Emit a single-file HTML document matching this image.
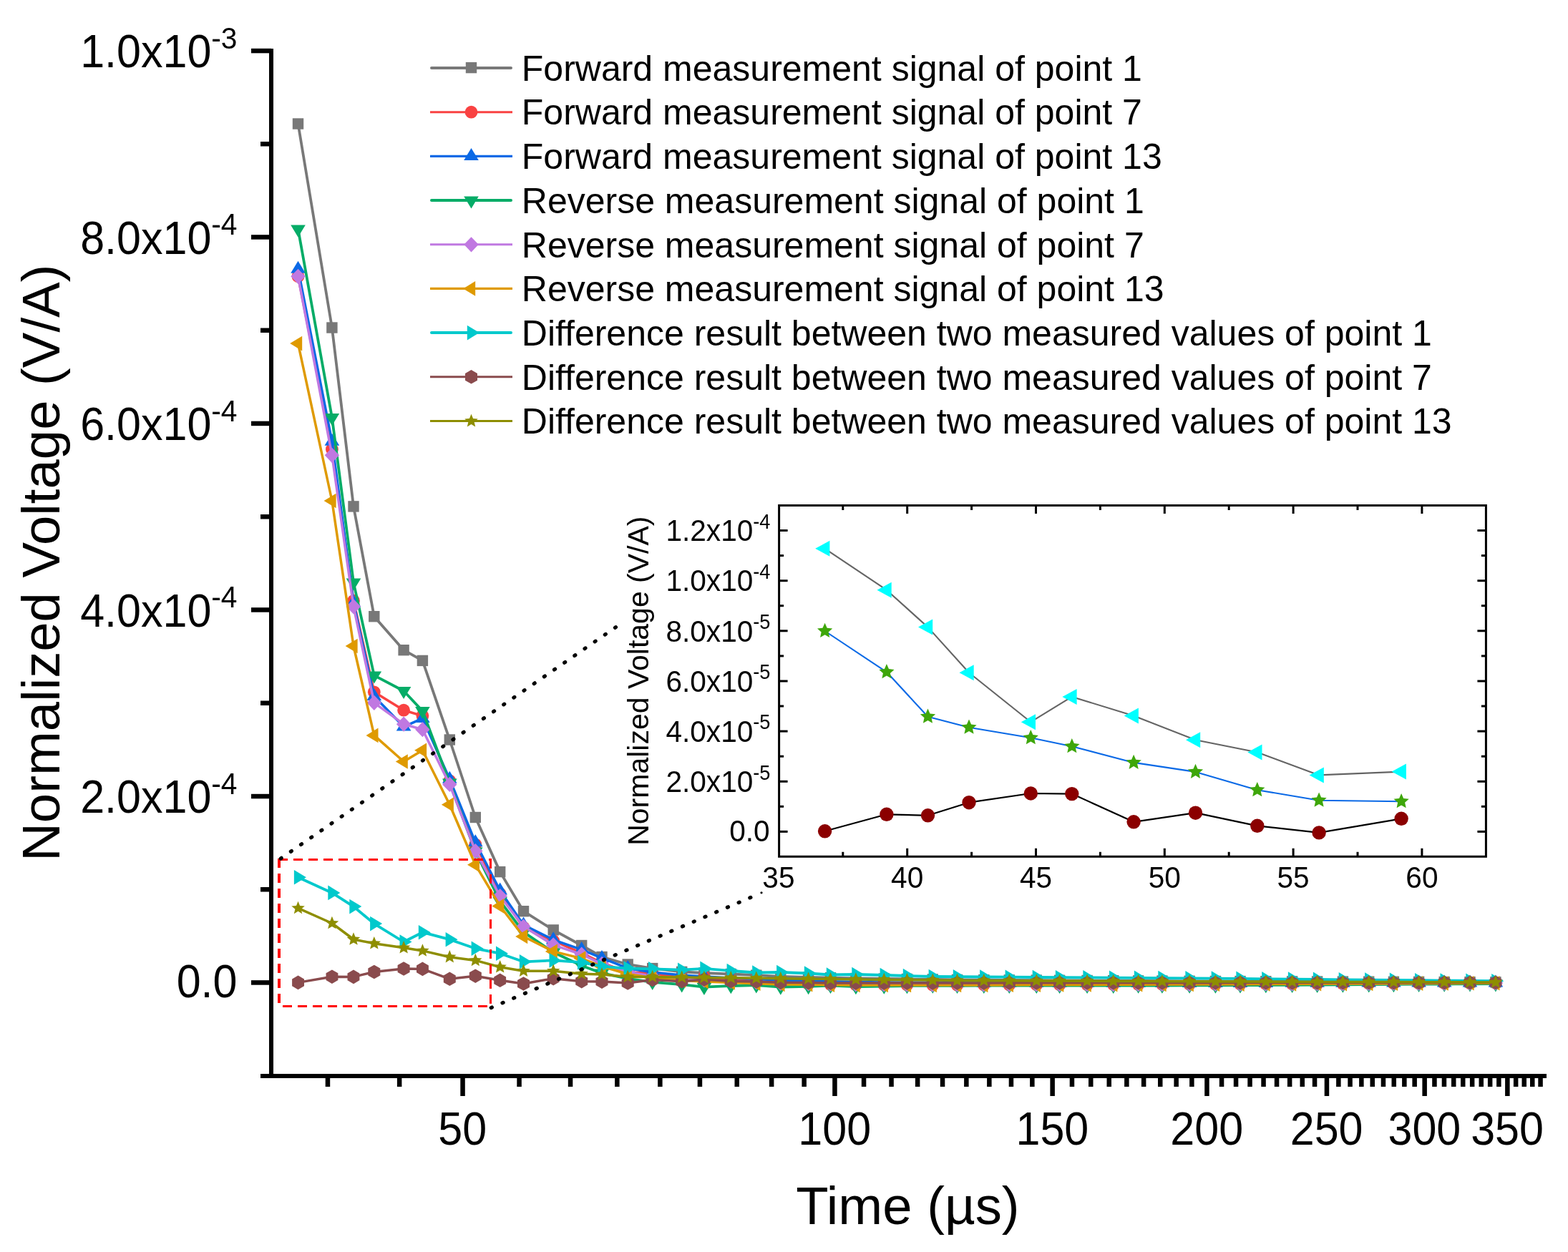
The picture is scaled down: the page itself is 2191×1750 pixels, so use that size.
<!DOCTYPE html>
<html lang="en"><head><meta charset="utf-8"><title>Normalized Voltage vs Time</title>
<style>html,body{margin:0;padding:0;background:#fff}body{width:2191px;height:1750px;overflow:hidden}svg{display:block}</style></head>
<body>
<svg width="2191" height="1750" viewBox="0 0 2191 1750" font-family='"Liberation Sans", Arial, Helvetica, sans-serif' fill="#000">
<rect width="2191" height="1750" fill="#fff"/>
<g id="main-data">
<polyline points="416.5,173 463.9,458 494,707.9 522.8,861.7 564.1,908.7 590.4,923.4 628.3,1034 664.3,1142.5 698.7,1218.6 731.5,1273.7 773.2,1299.9 812.7,1321.5 841,1337.5 877.2,1348 911.7,1353.6 952.7,1358.4 983.9,1360 1021.3,1361.5 1056.8,1363.2 1090.8,1365 1129.6,1365.8 1160.5,1366.7 1195.9,1367.5 1235.3,1368 1267.4,1368.5 1303.3,1369 1337.5,1369.5 1374.8,1369.7 1410.3,1369.9 1448.3,1370.1 1480.6,1370.3 1519.1,1370.5 1555.7,1370.7 1590.6,1370.9 1623.9,1371.1 1662.1,1371.3 1698.4,1371.5 1733,1371.6 1768.8,1371.7 1805.6,1371.9 1840.6,1372 1876.4,1372.1 1912.7,1372.2 1947.4,1372.3 1982.6,1372.4 2018.2,1372.6 2054,1372.7 2089.9,1372.8" fill="none" stroke="#787878" stroke-width="3.8" stroke-linejoin="round"/><rect x="408.8" y="165.3" width="15.4" height="15.4" fill="#787878"/><rect x="456.2" y="450.3" width="15.4" height="15.4" fill="#787878"/><rect x="486.3" y="700.2" width="15.4" height="15.4" fill="#787878"/><rect x="515.1" y="854" width="15.4" height="15.4" fill="#787878"/><rect x="556.4" y="901" width="15.4" height="15.4" fill="#787878"/><rect x="582.7" y="915.7" width="15.4" height="15.4" fill="#787878"/><rect x="620.6" y="1026.3" width="15.4" height="15.4" fill="#787878"/><rect x="656.6" y="1134.8" width="15.4" height="15.4" fill="#787878"/><rect x="691" y="1210.9" width="15.4" height="15.4" fill="#787878"/><rect x="723.8" y="1266" width="15.4" height="15.4" fill="#787878"/><rect x="765.5" y="1292.2" width="15.4" height="15.4" fill="#787878"/><rect x="805" y="1313.8" width="15.4" height="15.4" fill="#787878"/><rect x="833.3" y="1329.8" width="15.4" height="15.4" fill="#787878"/><rect x="869.5" y="1340.3" width="15.4" height="15.4" fill="#787878"/><rect x="904" y="1345.9" width="15.4" height="15.4" fill="#787878"/><rect x="945" y="1350.7" width="15.4" height="15.4" fill="#787878"/><rect x="976.2" y="1352.2" width="15.4" height="15.4" fill="#787878"/><rect x="1013.6" y="1353.8" width="15.4" height="15.4" fill="#787878"/><rect x="1049.1" y="1355.5" width="15.4" height="15.4" fill="#787878"/><rect x="1083.1" y="1357.3" width="15.4" height="15.4" fill="#787878"/><rect x="1121.9" y="1358.1" width="15.4" height="15.4" fill="#787878"/><rect x="1152.8" y="1359" width="15.4" height="15.4" fill="#787878"/><rect x="1188.2" y="1359.8" width="15.4" height="15.4" fill="#787878"/><rect x="1227.6" y="1360.3" width="15.4" height="15.4" fill="#787878"/><rect x="1259.7" y="1360.8" width="15.4" height="15.4" fill="#787878"/><rect x="1295.6" y="1361.3" width="15.4" height="15.4" fill="#787878"/><rect x="1329.8" y="1361.8" width="15.4" height="15.4" fill="#787878"/><rect x="1367.1" y="1362" width="15.4" height="15.4" fill="#787878"/><rect x="1402.6" y="1362.2" width="15.4" height="15.4" fill="#787878"/><rect x="1440.6" y="1362.4" width="15.4" height="15.4" fill="#787878"/><rect x="1472.9" y="1362.6" width="15.4" height="15.4" fill="#787878"/><rect x="1511.4" y="1362.8" width="15.4" height="15.4" fill="#787878"/><rect x="1548" y="1363" width="15.4" height="15.4" fill="#787878"/><rect x="1582.9" y="1363.2" width="15.4" height="15.4" fill="#787878"/><rect x="1616.2" y="1363.4" width="15.4" height="15.4" fill="#787878"/><rect x="1654.4" y="1363.6" width="15.4" height="15.4" fill="#787878"/><rect x="1690.7" y="1363.8" width="15.4" height="15.4" fill="#787878"/><rect x="1725.3" y="1363.9" width="15.4" height="15.4" fill="#787878"/><rect x="1761.1" y="1364" width="15.4" height="15.4" fill="#787878"/><rect x="1797.9" y="1364.2" width="15.4" height="15.4" fill="#787878"/><rect x="1832.9" y="1364.3" width="15.4" height="15.4" fill="#787878"/><rect x="1868.7" y="1364.4" width="15.4" height="15.4" fill="#787878"/><rect x="1905" y="1364.5" width="15.4" height="15.4" fill="#787878"/><rect x="1939.7" y="1364.6" width="15.4" height="15.4" fill="#787878"/><rect x="1974.9" y="1364.7" width="15.4" height="15.4" fill="#787878"/><rect x="2010.5" y="1364.9" width="15.4" height="15.4" fill="#787878"/><rect x="2046.3" y="1365" width="15.4" height="15.4" fill="#787878"/><rect x="2082.2" y="1365.1" width="15.4" height="15.4" fill="#787878"/>
<polyline points="416.5,386.2 463.9,628 494,839.7 522.8,967.3 564.1,992.7 590.4,1000.6 628.3,1091.2 664.3,1180.3 698.7,1249.3 731.5,1296.5 773.2,1315 812.7,1332.2 841,1345.9 877.2,1359 911.7,1360.5 952.7,1366.8 983.9,1365.5 1021.3,1369.5 1056.8,1371.5 1090.8,1374.3 1129.6,1375.1 1160.5,1376 1195.9,1376.5 1235.3,1376.5 1267.4,1376.5 1303.3,1376.6 1337.5,1376.6 1374.8,1376.5 1410.3,1376.4 1448.3,1376.3 1480.6,1376.2 1519.1,1376.1 1555.7,1376 1590.6,1375.9 1623.9,1375.8 1662.1,1375.7 1698.4,1375.7 1733,1375.5 1768.8,1375.3 1805.6,1375.2 1840.6,1375 1876.4,1374.9 1912.7,1374.7 1947.4,1374.5 1982.6,1374.4 2018.2,1374.2 2054,1374.1 2089.9,1373.9" fill="none" stroke="#F94242" stroke-width="3.5" stroke-linejoin="round"/><circle cx="416.5" cy="386.2" r="8.9" fill="#F94242"/><circle cx="463.9" cy="628" r="8.9" fill="#F94242"/><circle cx="494" cy="839.7" r="8.9" fill="#F94242"/><circle cx="522.8" cy="967.3" r="8.9" fill="#F94242"/><circle cx="564.1" cy="992.7" r="8.9" fill="#F94242"/><circle cx="590.4" cy="1000.6" r="8.9" fill="#F94242"/><circle cx="628.3" cy="1091.2" r="8.9" fill="#F94242"/><circle cx="664.3" cy="1180.3" r="8.9" fill="#F94242"/><circle cx="698.7" cy="1249.3" r="8.9" fill="#F94242"/><circle cx="731.5" cy="1296.5" r="8.9" fill="#F94242"/><circle cx="773.2" cy="1315" r="8.9" fill="#F94242"/><circle cx="812.7" cy="1332.2" r="8.9" fill="#F94242"/><circle cx="841" cy="1345.9" r="8.9" fill="#F94242"/><circle cx="877.2" cy="1359" r="8.9" fill="#F94242"/><circle cx="911.7" cy="1360.5" r="8.9" fill="#F94242"/><circle cx="952.7" cy="1366.8" r="8.9" fill="#F94242"/><circle cx="983.9" cy="1365.5" r="8.9" fill="#F94242"/><circle cx="1021.3" cy="1369.5" r="8.9" fill="#F94242"/><circle cx="1056.8" cy="1371.5" r="8.9" fill="#F94242"/><circle cx="1090.8" cy="1374.3" r="8.9" fill="#F94242"/><circle cx="1129.6" cy="1375.1" r="8.9" fill="#F94242"/><circle cx="1160.5" cy="1376" r="8.9" fill="#F94242"/><circle cx="1195.9" cy="1376.5" r="8.9" fill="#F94242"/><circle cx="1235.3" cy="1376.5" r="8.9" fill="#F94242"/><circle cx="1267.4" cy="1376.5" r="8.9" fill="#F94242"/><circle cx="1303.3" cy="1376.6" r="8.9" fill="#F94242"/><circle cx="1337.5" cy="1376.6" r="8.9" fill="#F94242"/><circle cx="1374.8" cy="1376.5" r="8.9" fill="#F94242"/><circle cx="1410.3" cy="1376.4" r="8.9" fill="#F94242"/><circle cx="1448.3" cy="1376.3" r="8.9" fill="#F94242"/><circle cx="1480.6" cy="1376.2" r="8.9" fill="#F94242"/><circle cx="1519.1" cy="1376.1" r="8.9" fill="#F94242"/><circle cx="1555.7" cy="1376" r="8.9" fill="#F94242"/><circle cx="1590.6" cy="1375.9" r="8.9" fill="#F94242"/><circle cx="1623.9" cy="1375.8" r="8.9" fill="#F94242"/><circle cx="1662.1" cy="1375.7" r="8.9" fill="#F94242"/><circle cx="1698.4" cy="1375.7" r="8.9" fill="#F94242"/><circle cx="1733" cy="1375.5" r="8.9" fill="#F94242"/><circle cx="1768.8" cy="1375.3" r="8.9" fill="#F94242"/><circle cx="1805.6" cy="1375.2" r="8.9" fill="#F94242"/><circle cx="1840.6" cy="1375" r="8.9" fill="#F94242"/><circle cx="1876.4" cy="1374.9" r="8.9" fill="#F94242"/><circle cx="1912.7" cy="1374.7" r="8.9" fill="#F94242"/><circle cx="1947.4" cy="1374.5" r="8.9" fill="#F94242"/><circle cx="1982.6" cy="1374.4" r="8.9" fill="#F94242"/><circle cx="2018.2" cy="1374.2" r="8.9" fill="#F94242"/><circle cx="2054" cy="1374.1" r="8.9" fill="#F94242"/><circle cx="2089.9" cy="1373.9" r="8.9" fill="#F94242"/>
<polyline points="416.5,376 463.9,617 494,842.5 522.8,973.2 564.1,1015.8 590.4,1004.2 628.3,1089 664.3,1177.6 698.7,1244.7 731.5,1292.7 773.2,1313.6 812.7,1327.3 841,1339.2 877.2,1353.4 911.7,1358.9 952.7,1363.1 983.9,1364.9 1021.3,1366.8 1056.8,1368.5 1090.8,1370.3 1129.6,1371 1160.5,1371.8 1195.9,1372.5 1235.3,1372.9 1267.4,1373.2 1303.3,1373.6 1337.5,1374 1374.8,1374 1410.3,1374.1 1448.3,1374.1 1480.6,1374.1 1519.1,1374.2 1555.7,1374.2 1590.6,1374.2 1623.9,1374.2 1662.1,1374.3 1698.4,1374.3 1733,1374.2 1768.8,1374.2 1805.6,1374.1 1840.6,1374.1 1876.4,1374 1912.7,1374 1947.4,1373.9 1982.6,1373.9 2018.2,1373.8 2054,1373.8 2089.9,1373.7" fill="none" stroke="#0A69E6" stroke-width="3.5" stroke-linejoin="round"/><polygon points="416.5,364.7 406.2,381.7 426.8,381.7" fill="#0A69E6"/><polygon points="463.9,605.7 453.6,622.7 474.2,622.7" fill="#0A69E6"/><polygon points="494,831.2 483.7,848.2 504.3,848.2" fill="#0A69E6"/><polygon points="522.8,961.9 512.5,978.9 533.1,978.9" fill="#0A69E6"/><polygon points="564.1,1004.5 553.8,1021.5 574.4,1021.5" fill="#0A69E6"/><polygon points="590.4,992.9 580.1,1009.9 600.7,1009.9" fill="#0A69E6"/><polygon points="628.3,1077.7 618,1094.7 638.6,1094.7" fill="#0A69E6"/><polygon points="664.3,1166.3 654,1183.3 674.6,1183.3" fill="#0A69E6"/><polygon points="698.7,1233.4 688.4,1250.4 709,1250.4" fill="#0A69E6"/><polygon points="731.5,1281.4 721.2,1298.4 741.8,1298.4" fill="#0A69E6"/><polygon points="773.2,1302.3 762.9,1319.3 783.5,1319.3" fill="#0A69E6"/><polygon points="812.7,1316 802.4,1333 823,1333" fill="#0A69E6"/><polygon points="841,1327.9 830.7,1344.9 851.3,1344.9" fill="#0A69E6"/><polygon points="877.2,1342.1 866.9,1359.1 887.5,1359.1" fill="#0A69E6"/><polygon points="911.7,1347.6 901.4,1364.6 922,1364.6" fill="#0A69E6"/><polygon points="952.7,1351.8 942.4,1368.8 963,1368.8" fill="#0A69E6"/><polygon points="983.9,1353.6 973.6,1370.6 994.2,1370.6" fill="#0A69E6"/><polygon points="1021.3,1355.5 1011,1372.5 1031.6,1372.5" fill="#0A69E6"/><polygon points="1056.8,1357.2 1046.5,1374.2 1067.1,1374.2" fill="#0A69E6"/><polygon points="1090.8,1359 1080.5,1376 1101.1,1376" fill="#0A69E6"/><polygon points="1129.6,1359.7 1119.3,1376.7 1139.9,1376.7" fill="#0A69E6"/><polygon points="1160.5,1360.4 1150.2,1377.4 1170.8,1377.4" fill="#0A69E6"/><polygon points="1195.9,1361.2 1185.6,1378.2 1206.2,1378.2" fill="#0A69E6"/><polygon points="1235.3,1361.5 1225,1378.5 1245.6,1378.5" fill="#0A69E6"/><polygon points="1267.4,1361.9 1257.1,1378.9 1277.7,1378.9" fill="#0A69E6"/><polygon points="1303.3,1362.3 1293,1379.3 1313.6,1379.3" fill="#0A69E6"/><polygon points="1337.5,1362.7 1327.2,1379.7 1347.8,1379.7" fill="#0A69E6"/><polygon points="1374.8,1362.7 1364.5,1379.7 1385.1,1379.7" fill="#0A69E6"/><polygon points="1410.3,1362.7 1400,1379.7 1420.6,1379.7" fill="#0A69E6"/><polygon points="1448.3,1362.8 1438,1379.8 1458.6,1379.8" fill="#0A69E6"/><polygon points="1480.6,1362.8 1470.3,1379.8 1490.9,1379.8" fill="#0A69E6"/><polygon points="1519.1,1362.8 1508.8,1379.8 1529.4,1379.8" fill="#0A69E6"/><polygon points="1555.7,1362.8 1545.4,1379.8 1566,1379.8" fill="#0A69E6"/><polygon points="1590.6,1362.9 1580.3,1379.9 1600.9,1379.9" fill="#0A69E6"/><polygon points="1623.9,1362.9 1613.6,1379.9 1634.2,1379.9" fill="#0A69E6"/><polygon points="1662.1,1362.9 1651.8,1379.9 1672.4,1379.9" fill="#0A69E6"/><polygon points="1698.4,1363 1688.1,1380 1708.7,1380" fill="#0A69E6"/><polygon points="1733,1362.9 1722.7,1379.9 1743.3,1379.9" fill="#0A69E6"/><polygon points="1768.8,1362.9 1758.5,1379.9 1779.1,1379.9" fill="#0A69E6"/><polygon points="1805.6,1362.8 1795.3,1379.8 1815.9,1379.8" fill="#0A69E6"/><polygon points="1840.6,1362.7 1830.3,1379.7 1850.9,1379.7" fill="#0A69E6"/><polygon points="1876.4,1362.7 1866.1,1379.7 1886.7,1379.7" fill="#0A69E6"/><polygon points="1912.7,1362.6 1902.4,1379.6 1923,1379.6" fill="#0A69E6"/><polygon points="1947.4,1362.6 1937.1,1379.6 1957.7,1379.6" fill="#0A69E6"/><polygon points="1982.6,1362.5 1972.3,1379.5 1992.9,1379.5" fill="#0A69E6"/><polygon points="2018.2,1362.5 2007.9,1379.5 2028.5,1379.5" fill="#0A69E6"/><polygon points="2054,1362.4 2043.7,1379.4 2064.3,1379.4" fill="#0A69E6"/><polygon points="2089.9,1362.4 2079.6,1379.4 2100.2,1379.4" fill="#0A69E6"/>
<polyline points="416.5,320.2 463.9,583.6 494,814.3 522.8,944.1 564.1,965.7 590.4,993.7 628.3,1094.3 664.3,1190.2 698.7,1259.4 731.5,1302.9 773.2,1331 812.7,1349.8 841,1360.2 877.2,1367.9 911.7,1372.8 952.7,1376.2 983.9,1379.7 1021.3,1378 1056.8,1377.2 1090.8,1379.5 1129.6,1378.8 1160.5,1377.7 1195.9,1379 1235.3,1378.5 1267.4,1378 1303.3,1377.5 1337.5,1377.8 1374.8,1377.7 1410.3,1377.7 1448.3,1377.6 1480.6,1377.6 1519.1,1377.6 1555.7,1377.5 1590.6,1377.5 1623.9,1377.5 1662.1,1377.4 1698.4,1377.4 1733,1377.2 1768.8,1377 1805.6,1376.8 1840.6,1376.5 1876.4,1376.3 1912.7,1376.1 1947.4,1375.9 1982.6,1375.7 2018.2,1375.5 2054,1375.3 2089.9,1375.1" fill="none" stroke="#05AC67" stroke-width="3.8" stroke-linejoin="round"/><polygon points="416.5,331.5 406.2,314.5 426.8,314.5" fill="#05AC67"/><polygon points="463.9,594.9 453.6,577.9 474.2,577.9" fill="#05AC67"/><polygon points="494,825.6 483.7,808.6 504.3,808.6" fill="#05AC67"/><polygon points="522.8,955.4 512.5,938.4 533.1,938.4" fill="#05AC67"/><polygon points="564.1,977 553.8,960 574.4,960" fill="#05AC67"/><polygon points="590.4,1005 580.1,988 600.7,988" fill="#05AC67"/><polygon points="628.3,1105.6 618,1088.6 638.6,1088.6" fill="#05AC67"/><polygon points="664.3,1201.5 654,1184.5 674.6,1184.5" fill="#05AC67"/><polygon points="698.7,1270.7 688.4,1253.7 709,1253.7" fill="#05AC67"/><polygon points="731.5,1314.2 721.2,1297.2 741.8,1297.2" fill="#05AC67"/><polygon points="773.2,1342.3 762.9,1325.3 783.5,1325.3" fill="#05AC67"/><polygon points="812.7,1361.1 802.4,1344.1 823,1344.1" fill="#05AC67"/><polygon points="841,1371.5 830.7,1354.5 851.3,1354.5" fill="#05AC67"/><polygon points="877.2,1379.2 866.9,1362.2 887.5,1362.2" fill="#05AC67"/><polygon points="911.7,1384.1 901.4,1367.1 922,1367.1" fill="#05AC67"/><polygon points="952.7,1387.5 942.4,1370.5 963,1370.5" fill="#05AC67"/><polygon points="983.9,1391 973.6,1374 994.2,1374" fill="#05AC67"/><polygon points="1021.3,1389.3 1011,1372.3 1031.6,1372.3" fill="#05AC67"/><polygon points="1056.8,1388.6 1046.5,1371.6 1067.1,1371.6" fill="#05AC67"/><polygon points="1090.8,1390.8 1080.5,1373.8 1101.1,1373.8" fill="#05AC67"/><polygon points="1129.6,1390.2 1119.3,1373.2 1139.9,1373.2" fill="#05AC67"/><polygon points="1160.5,1389 1150.2,1372 1170.8,1372" fill="#05AC67"/><polygon points="1195.9,1390.3 1185.6,1373.3 1206.2,1373.3" fill="#05AC67"/><polygon points="1235.3,1389.8 1225,1372.8 1245.6,1372.8" fill="#05AC67"/><polygon points="1267.4,1389.3 1257.1,1372.3 1277.7,1372.3" fill="#05AC67"/><polygon points="1303.3,1388.8 1293,1371.8 1313.6,1371.8" fill="#05AC67"/><polygon points="1337.5,1389.1 1327.2,1372.1 1347.8,1372.1" fill="#05AC67"/><polygon points="1374.8,1389.1 1364.5,1372.1 1385.1,1372.1" fill="#05AC67"/><polygon points="1410.3,1389 1400,1372 1420.6,1372" fill="#05AC67"/><polygon points="1448.3,1389 1438,1372 1458.6,1372" fill="#05AC67"/><polygon points="1480.6,1388.9 1470.3,1371.9 1490.9,1371.9" fill="#05AC67"/><polygon points="1519.1,1388.9 1508.8,1371.9 1529.4,1371.9" fill="#05AC67"/><polygon points="1555.7,1388.9 1545.4,1371.9 1566,1371.9" fill="#05AC67"/><polygon points="1590.6,1388.8 1580.3,1371.8 1600.9,1371.8" fill="#05AC67"/><polygon points="1623.9,1388.8 1613.6,1371.8 1634.2,1371.8" fill="#05AC67"/><polygon points="1662.1,1388.8 1651.8,1371.8 1672.4,1371.8" fill="#05AC67"/><polygon points="1698.4,1388.7 1688.1,1371.7 1708.7,1371.7" fill="#05AC67"/><polygon points="1733,1388.5 1722.7,1371.5 1743.3,1371.5" fill="#05AC67"/><polygon points="1768.8,1388.3 1758.5,1371.3 1779.1,1371.3" fill="#05AC67"/><polygon points="1805.6,1388.1 1795.3,1371.1 1815.9,1371.1" fill="#05AC67"/><polygon points="1840.6,1387.9 1830.3,1370.9 1850.9,1370.9" fill="#05AC67"/><polygon points="1876.4,1387.7 1866.1,1370.7 1886.7,1370.7" fill="#05AC67"/><polygon points="1912.7,1387.4 1902.4,1370.4 1923,1370.4" fill="#05AC67"/><polygon points="1947.4,1387.2 1937.1,1370.2 1957.7,1370.2" fill="#05AC67"/><polygon points="1982.6,1387 1972.3,1370 1992.9,1370" fill="#05AC67"/><polygon points="2018.2,1386.8 2007.9,1369.8 2028.5,1369.8" fill="#05AC67"/><polygon points="2054,1386.6 2043.7,1369.6 2064.3,1369.6" fill="#05AC67"/><polygon points="2089.9,1386.4 2079.6,1369.4 2100.2,1369.4" fill="#05AC67"/>
<polyline points="416.5,386.3 463.9,636.3 494,847.8 522.8,982.3 564.1,1012.2 590.4,1019.7 628.3,1096.4 664.3,1189.6 698.7,1252.5 731.5,1295 773.2,1320.8 812.7,1334 841,1347.3 877.2,1358.5 911.7,1364.5 952.7,1368.5 983.9,1370 1021.3,1371.5 1056.8,1373 1090.8,1374.5 1129.6,1375 1160.5,1375.5 1195.9,1376 1235.3,1376 1267.4,1376.1 1303.3,1376.2 1337.5,1376.2 1374.8,1376.1 1410.3,1376.1 1448.3,1376 1480.6,1375.9 1519.1,1375.8 1555.7,1375.8 1590.6,1375.7 1623.9,1375.6 1662.1,1375.6 1698.4,1375.5 1733,1375.4 1768.8,1375.2 1805.6,1375.1 1840.6,1375 1876.4,1374.8 1912.7,1374.7 1947.4,1374.5 1982.6,1374.4 2018.2,1374.3 2054,1374.1 2089.9,1374" fill="none" stroke="#C078E1" stroke-width="3.5" stroke-linejoin="round"/><polygon points="416.5,375.7 426.7,386.3 416.5,396.9 406.3,386.3" fill="#C078E1"/><polygon points="463.9,625.7 474.1,636.3 463.9,646.9 453.7,636.3" fill="#C078E1"/><polygon points="494,837.2 504.2,847.8 494,858.4 483.8,847.8" fill="#C078E1"/><polygon points="522.8,971.7 533,982.3 522.8,992.9 512.6,982.3" fill="#C078E1"/><polygon points="564.1,1001.6 574.3,1012.2 564.1,1022.8 553.9,1012.2" fill="#C078E1"/><polygon points="590.4,1009.1 600.6,1019.7 590.4,1030.3 580.2,1019.7" fill="#C078E1"/><polygon points="628.3,1085.8 638.5,1096.4 628.3,1107 618.1,1096.4" fill="#C078E1"/><polygon points="664.3,1179 674.5,1189.6 664.3,1200.2 654.1,1189.6" fill="#C078E1"/><polygon points="698.7,1241.9 708.9,1252.5 698.7,1263.1 688.5,1252.5" fill="#C078E1"/><polygon points="731.5,1284.4 741.7,1295 731.5,1305.6 721.3,1295" fill="#C078E1"/><polygon points="773.2,1310.2 783.4,1320.8 773.2,1331.4 763,1320.8" fill="#C078E1"/><polygon points="812.7,1323.4 822.9,1334 812.7,1344.6 802.5,1334" fill="#C078E1"/><polygon points="841,1336.7 851.2,1347.3 841,1357.9 830.8,1347.3" fill="#C078E1"/><polygon points="877.2,1347.9 887.4,1358.5 877.2,1369.1 867,1358.5" fill="#C078E1"/><polygon points="911.7,1353.9 921.9,1364.5 911.7,1375.1 901.5,1364.5" fill="#C078E1"/><polygon points="952.7,1357.9 962.9,1368.5 952.7,1379.1 942.5,1368.5" fill="#C078E1"/><polygon points="983.9,1359.4 994.1,1370 983.9,1380.6 973.7,1370" fill="#C078E1"/><polygon points="1021.3,1360.9 1031.5,1371.5 1021.3,1382.1 1011.1,1371.5" fill="#C078E1"/><polygon points="1056.8,1362.4 1067,1373 1056.8,1383.6 1046.6,1373" fill="#C078E1"/><polygon points="1090.8,1363.9 1101,1374.5 1090.8,1385.1 1080.6,1374.5" fill="#C078E1"/><polygon points="1129.6,1364.4 1139.8,1375 1129.6,1385.6 1119.4,1375" fill="#C078E1"/><polygon points="1160.5,1364.9 1170.7,1375.5 1160.5,1386.1 1150.3,1375.5" fill="#C078E1"/><polygon points="1195.9,1365.4 1206.1,1376 1195.9,1386.6 1185.7,1376" fill="#C078E1"/><polygon points="1235.3,1365.5 1245.5,1376 1235.3,1386.6 1225.1,1376" fill="#C078E1"/><polygon points="1267.4,1365.5 1277.6,1376.1 1267.4,1386.7 1257.2,1376.1" fill="#C078E1"/><polygon points="1303.3,1365.6 1313.5,1376.2 1303.3,1386.8 1293.1,1376.2" fill="#C078E1"/><polygon points="1337.5,1365.6 1347.7,1376.2 1337.5,1386.8 1327.3,1376.2" fill="#C078E1"/><polygon points="1374.8,1365.5 1385,1376.1 1374.8,1386.7 1364.6,1376.1" fill="#C078E1"/><polygon points="1410.3,1365.5 1420.5,1376.1 1410.3,1386.7 1400.1,1376.1" fill="#C078E1"/><polygon points="1448.3,1365.4 1458.5,1376 1448.3,1386.6 1438.1,1376" fill="#C078E1"/><polygon points="1480.6,1365.3 1490.8,1375.9 1480.6,1386.5 1470.4,1375.9" fill="#C078E1"/><polygon points="1519.1,1365.2 1529.3,1375.8 1519.1,1386.4 1508.9,1375.8" fill="#C078E1"/><polygon points="1555.7,1365.2 1565.9,1375.8 1555.7,1386.4 1545.5,1375.8" fill="#C078E1"/><polygon points="1590.6,1365.1 1600.8,1375.7 1590.6,1386.3 1580.4,1375.7" fill="#C078E1"/><polygon points="1623.9,1365 1634.1,1375.6 1623.9,1386.2 1613.7,1375.6" fill="#C078E1"/><polygon points="1662.1,1365 1672.3,1375.6 1662.1,1386.2 1651.9,1375.6" fill="#C078E1"/><polygon points="1698.4,1364.9 1708.6,1375.5 1698.4,1386.1 1688.2,1375.5" fill="#C078E1"/><polygon points="1733,1364.8 1743.2,1375.4 1733,1386 1722.8,1375.4" fill="#C078E1"/><polygon points="1768.8,1364.6 1779,1375.2 1768.8,1385.8 1758.6,1375.2" fill="#C078E1"/><polygon points="1805.6,1364.5 1815.8,1375.1 1805.6,1385.7 1795.4,1375.1" fill="#C078E1"/><polygon points="1840.6,1364.4 1850.8,1375 1840.6,1385.6 1830.4,1375" fill="#C078E1"/><polygon points="1876.4,1364.2 1886.6,1374.8 1876.4,1385.4 1866.2,1374.8" fill="#C078E1"/><polygon points="1912.7,1364.1 1922.9,1374.7 1912.7,1385.3 1902.5,1374.7" fill="#C078E1"/><polygon points="1947.4,1363.9 1957.6,1374.5 1947.4,1385.1 1937.2,1374.5" fill="#C078E1"/><polygon points="1982.6,1363.8 1992.8,1374.4 1982.6,1385 1972.4,1374.4" fill="#C078E1"/><polygon points="2018.2,1363.7 2028.4,1374.3 2018.2,1384.9 2008,1374.3" fill="#C078E1"/><polygon points="2054,1363.5 2064.2,1374.1 2054,1384.7 2043.8,1374.1" fill="#C078E1"/><polygon points="2089.9,1363.4 2100.1,1374 2089.9,1384.6 2079.7,1374" fill="#C078E1"/>
<polyline points="416.5,480.1 463.9,700 494,903 522.8,1027.9 564.1,1064.5 590.4,1048.8 628.3,1124.8 664.3,1208.7 698.7,1266.4 731.5,1309 773.2,1329.9 812.7,1339.6 841,1350.8 877.2,1361.5 911.7,1367 952.7,1370.5 983.9,1372 1021.3,1373.5 1056.8,1374.8 1090.8,1376 1129.6,1376.3 1160.5,1376.7 1195.9,1377 1235.3,1377 1267.4,1377 1303.3,1377 1337.5,1377 1374.8,1376.9 1410.3,1376.8 1448.3,1376.6 1480.6,1376.5 1519.1,1376.4 1555.7,1376.3 1590.6,1376.2 1623.9,1376 1662.1,1375.9 1698.4,1375.8 1733,1375.7 1768.8,1375.5 1805.6,1375.4 1840.6,1375.2 1876.4,1375.1 1912.7,1374.9 1947.4,1374.8 1982.6,1374.6 2018.2,1374.5 2054,1374.3 2089.9,1374.2" fill="none" stroke="#DF9A00" stroke-width="3.5" stroke-linejoin="round"/><polygon points="405.2,480.1 422.2,469.8 422.2,490.4" fill="#DF9A00"/><polygon points="452.6,700 469.6,689.7 469.6,710.3" fill="#DF9A00"/><polygon points="482.6,903 499.6,892.7 499.6,913.3" fill="#DF9A00"/><polygon points="511.5,1027.9 528.5,1017.6 528.5,1038.2" fill="#DF9A00"/><polygon points="552.8,1064.5 569.8,1054.2 569.8,1074.8" fill="#DF9A00"/><polygon points="579.1,1048.8 596.1,1038.5 596.1,1059.1" fill="#DF9A00"/><polygon points="616.9,1124.8 633.9,1114.5 633.9,1135.1" fill="#DF9A00"/><polygon points="653,1208.7 670,1198.4 670,1219" fill="#DF9A00"/><polygon points="687.3,1266.4 704.3,1256.1 704.3,1276.7" fill="#DF9A00"/><polygon points="720.2,1309 737.2,1298.7 737.2,1319.3" fill="#DF9A00"/><polygon points="761.9,1329.9 778.9,1319.6 778.9,1340.2" fill="#DF9A00"/><polygon points="801.4,1339.6 818.4,1329.3 818.4,1349.9" fill="#DF9A00"/><polygon points="829.7,1350.8 846.7,1340.5 846.7,1361.1" fill="#DF9A00"/><polygon points="865.8,1361.5 882.8,1351.2 882.8,1371.8" fill="#DF9A00"/><polygon points="900.3,1367 917.3,1356.7 917.3,1377.3" fill="#DF9A00"/><polygon points="941.3,1370.5 958.3,1360.2 958.3,1380.8" fill="#DF9A00"/><polygon points="972.6,1372 989.6,1361.7 989.6,1382.3" fill="#DF9A00"/><polygon points="1009.9,1373.5 1026.9,1363.2 1026.9,1383.8" fill="#DF9A00"/><polygon points="1045.5,1374.8 1062.5,1364.5 1062.5,1385" fill="#DF9A00"/><polygon points="1079.5,1376 1096.5,1365.7 1096.5,1386.3" fill="#DF9A00"/><polygon points="1118.3,1376.3 1135.3,1366 1135.3,1386.6" fill="#DF9A00"/><polygon points="1149.1,1376.7 1166.1,1366.4 1166.1,1387" fill="#DF9A00"/><polygon points="1184.6,1377 1201.6,1366.7 1201.6,1387.3" fill="#DF9A00"/><polygon points="1223.9,1377 1240.9,1366.7 1240.9,1387.3" fill="#DF9A00"/><polygon points="1256.1,1377 1273.1,1366.7 1273.1,1387.3" fill="#DF9A00"/><polygon points="1291.9,1377 1308.9,1366.7 1308.9,1387.3" fill="#DF9A00"/><polygon points="1326.2,1377 1343.2,1366.7 1343.2,1387.3" fill="#DF9A00"/><polygon points="1363.4,1376.9 1380.4,1366.6 1380.4,1387.2" fill="#DF9A00"/><polygon points="1399,1376.8 1416,1366.5 1416,1387.1" fill="#DF9A00"/><polygon points="1437,1376.6 1454,1366.3 1454,1386.9" fill="#DF9A00"/><polygon points="1469.3,1376.5 1486.3,1366.2 1486.3,1386.8" fill="#DF9A00"/><polygon points="1507.8,1376.4 1524.8,1366.1 1524.8,1386.7" fill="#DF9A00"/><polygon points="1544.4,1376.3 1561.4,1366 1561.4,1386.6" fill="#DF9A00"/><polygon points="1579.3,1376.2 1596.3,1365.9 1596.3,1386.5" fill="#DF9A00"/><polygon points="1612.6,1376 1629.6,1365.7 1629.6,1386.3" fill="#DF9A00"/><polygon points="1650.8,1375.9 1667.8,1365.6 1667.8,1386.2" fill="#DF9A00"/><polygon points="1687.1,1375.8 1704.1,1365.5 1704.1,1386.1" fill="#DF9A00"/><polygon points="1721.7,1375.7 1738.7,1365.4 1738.7,1386" fill="#DF9A00"/><polygon points="1757.5,1375.5 1774.5,1365.2 1774.5,1385.8" fill="#DF9A00"/><polygon points="1794.2,1375.4 1811.2,1365.1 1811.2,1385.7" fill="#DF9A00"/><polygon points="1829.2,1375.2 1846.2,1364.9 1846.2,1385.5" fill="#DF9A00"/><polygon points="1865,1375.1 1882,1364.8 1882,1385.4" fill="#DF9A00"/><polygon points="1901.4,1374.9 1918.4,1364.6 1918.4,1385.2" fill="#DF9A00"/><polygon points="1936.1,1374.8 1953.1,1364.5 1953.1,1385.1" fill="#DF9A00"/><polygon points="1971.3,1374.6 1988.3,1364.3 1988.3,1384.9" fill="#DF9A00"/><polygon points="2006.8,1374.5 2023.8,1364.2 2023.8,1384.8" fill="#DF9A00"/><polygon points="2042.6,1374.3 2059.6,1364 2059.6,1384.6" fill="#DF9A00"/><polygon points="2078.5,1374.2 2095.5,1363.9 2095.5,1384.5" fill="#DF9A00"/>
<polyline points="416.5,1226.3 463.9,1247.9 494,1267.1 522.8,1291.1 564.1,1316.5 590.4,1303.2 628.3,1313.2 664.3,1325.8 698.7,1332.7 731.5,1344.3 773.2,1342.4 812.7,1345.2 841,1350.8 877.2,1353.6 911.7,1354.3 952.7,1355.7 983.9,1353.8 1021.3,1357 1056.8,1359.5 1090.8,1359 1129.6,1360.5 1160.5,1362.5 1195.9,1362 1235.3,1363 1267.4,1364 1303.3,1365 1337.5,1365.2 1374.8,1365.5 1410.3,1365.7 1448.3,1366 1480.6,1366.2 1519.1,1366.4 1555.7,1366.7 1590.6,1366.9 1623.9,1367.1 1662.1,1367.4 1698.4,1367.6 1733,1367.9 1768.8,1368.3 1805.6,1368.6 1840.6,1368.9 1876.4,1369.3 1912.7,1369.6 1947.4,1369.9 1982.6,1370.2 2018.2,1370.6 2054,1370.9 2089.9,1371.2" fill="none" stroke="#00C9CC" stroke-width="3.8" stroke-linejoin="round"/><polygon points="427.9,1226.3 410.9,1216 410.9,1236.6" fill="#00C9CC"/><polygon points="475.3,1247.9 458.3,1237.6 458.3,1258.2" fill="#00C9CC"/><polygon points="505.3,1267.1 488.3,1256.8 488.3,1277.4" fill="#00C9CC"/><polygon points="534.1,1291.1 517.1,1280.8 517.1,1301.4" fill="#00C9CC"/><polygon points="575.5,1316.5 558.5,1306.2 558.5,1326.8" fill="#00C9CC"/><polygon points="601.8,1303.2 584.8,1292.9 584.8,1313.5" fill="#00C9CC"/><polygon points="639.6,1313.2 622.6,1302.9 622.6,1323.5" fill="#00C9CC"/><polygon points="675.6,1325.8 658.6,1315.5 658.6,1336.1" fill="#00C9CC"/><polygon points="710,1332.7 693,1322.4 693,1343" fill="#00C9CC"/><polygon points="742.9,1344.3 725.9,1334 725.9,1354.6" fill="#00C9CC"/><polygon points="784.5,1342.4 767.5,1332.1 767.5,1352.7" fill="#00C9CC"/><polygon points="824,1345.2 807,1334.9 807,1355.5" fill="#00C9CC"/><polygon points="852.3,1350.8 835.3,1340.5 835.3,1361.1" fill="#00C9CC"/><polygon points="888.5,1353.6 871.5,1343.3 871.5,1363.9" fill="#00C9CC"/><polygon points="923,1354.3 906,1344 906,1364.6" fill="#00C9CC"/><polygon points="964,1355.7 947,1345.4 947,1366" fill="#00C9CC"/><polygon points="995.3,1353.8 978.3,1343.5 978.3,1364.1" fill="#00C9CC"/><polygon points="1032.6,1357 1015.6,1346.7 1015.6,1367.3" fill="#00C9CC"/><polygon points="1068.2,1359.5 1051.2,1349.2 1051.2,1369.8" fill="#00C9CC"/><polygon points="1102.1,1359 1085.1,1348.7 1085.1,1369.3" fill="#00C9CC"/><polygon points="1140.9,1360.5 1123.9,1350.2 1123.9,1370.8" fill="#00C9CC"/><polygon points="1171.8,1362.5 1154.8,1352.2 1154.8,1372.8" fill="#00C9CC"/><polygon points="1207.3,1362 1190.3,1351.7 1190.3,1372.3" fill="#00C9CC"/><polygon points="1246.6,1363 1229.6,1352.7 1229.6,1373.3" fill="#00C9CC"/><polygon points="1278.8,1364 1261.8,1353.7 1261.8,1374.3" fill="#00C9CC"/><polygon points="1314.6,1365 1297.6,1354.7 1297.6,1375.3" fill="#00C9CC"/><polygon points="1348.8,1365.2 1331.8,1354.9 1331.8,1375.5" fill="#00C9CC"/><polygon points="1386.1,1365.5 1369.1,1355.2 1369.1,1375.8" fill="#00C9CC"/><polygon points="1421.6,1365.7 1404.6,1355.4 1404.6,1376" fill="#00C9CC"/><polygon points="1459.7,1366 1442.7,1355.7 1442.7,1376.3" fill="#00C9CC"/><polygon points="1491.9,1366.2 1474.9,1355.9 1474.9,1376.5" fill="#00C9CC"/><polygon points="1530.4,1366.4 1513.4,1356.1 1513.4,1376.7" fill="#00C9CC"/><polygon points="1567,1366.7 1550,1356.4 1550,1377" fill="#00C9CC"/><polygon points="1601.9,1366.9 1584.9,1356.6 1584.9,1377.2" fill="#00C9CC"/><polygon points="1635.3,1367.1 1618.3,1356.8 1618.3,1377.4" fill="#00C9CC"/><polygon points="1673.4,1367.4 1656.4,1357.1 1656.4,1377.7" fill="#00C9CC"/><polygon points="1709.7,1367.6 1692.7,1357.3 1692.7,1377.9" fill="#00C9CC"/><polygon points="1744.4,1367.9 1727.4,1357.6 1727.4,1378.2" fill="#00C9CC"/><polygon points="1780.2,1368.3 1763.2,1358 1763.2,1378.6" fill="#00C9CC"/><polygon points="1816.9,1368.6 1799.9,1358.3 1799.9,1378.9" fill="#00C9CC"/><polygon points="1851.9,1368.9 1834.9,1358.6 1834.9,1379.2" fill="#00C9CC"/><polygon points="1887.7,1369.3 1870.7,1359 1870.7,1379.6" fill="#00C9CC"/><polygon points="1924.1,1369.6 1907.1,1359.3 1907.1,1379.9" fill="#00C9CC"/><polygon points="1958.8,1369.9 1941.8,1359.6 1941.8,1380.2" fill="#00C9CC"/><polygon points="1994,1370.2 1977,1359.9 1977,1380.5" fill="#00C9CC"/><polygon points="2029.5,1370.6 2012.5,1360.3 2012.5,1380.9" fill="#00C9CC"/><polygon points="2065.3,1370.9 2048.3,1360.6 2048.3,1381.2" fill="#00C9CC"/><polygon points="2101.2,1371.2 2084.2,1360.9 2084.2,1381.5" fill="#00C9CC"/>
<polyline points="416.5,1373.4 463.9,1365.2 494,1365.4 522.8,1358.5 564.1,1354 590.4,1354.4 628.3,1368.3 664.3,1364.2 698.7,1370.3 731.5,1375 773.2,1367.7 812.7,1371.7 841,1372.1 877.2,1374 911.7,1369.5 952.7,1371.8 983.9,1369 1021.3,1371.5 1056.8,1372 1090.8,1373.3 1129.6,1373.6 1160.5,1374 1195.9,1374 1235.3,1374 1267.4,1373.9 1303.3,1373.9 1337.5,1373.9 1374.8,1373.9 1410.3,1373.8 1448.3,1373.8 1480.6,1373.8 1519.1,1373.8 1555.7,1373.7 1590.6,1373.7 1623.9,1373.7 1662.1,1373.7 1698.4,1373.7 1733,1373.6 1768.8,1373.6 1805.6,1373.6 1840.6,1373.6 1876.4,1373.5 1912.7,1373.5 1947.4,1373.5 1982.6,1373.5 2018.2,1373.4 2054,1373.4 2089.9,1373.4" fill="none" stroke="#8A4B4D" stroke-width="3.5" stroke-linejoin="round"/><polygon points="416.5,1363.6 425,1368.5 425,1378.3 416.5,1383.2 408.1,1378.3 408.1,1368.5" fill="#8A4B4D"/><polygon points="463.9,1355.4 472.4,1360.3 472.4,1370.1 463.9,1375 455.5,1370.1 455.5,1360.3" fill="#8A4B4D"/><polygon points="494,1355.6 502.4,1360.5 502.4,1370.3 494,1375.2 485.5,1370.3 485.5,1360.5" fill="#8A4B4D"/><polygon points="522.8,1348.7 531.3,1353.6 531.3,1363.4 522.8,1368.3 514.3,1363.4 514.3,1353.6" fill="#8A4B4D"/><polygon points="564.1,1344.2 572.6,1349.1 572.6,1358.9 564.1,1363.8 555.6,1358.9 555.6,1349.1" fill="#8A4B4D"/><polygon points="590.4,1344.6 598.9,1349.5 598.9,1359.3 590.4,1364.2 582,1359.3 582,1349.5" fill="#8A4B4D"/><polygon points="628.3,1358.5 636.8,1363.4 636.8,1373.2 628.3,1378.1 619.8,1373.2 619.8,1363.4" fill="#8A4B4D"/><polygon points="664.3,1354.4 672.8,1359.3 672.8,1369.1 664.3,1374 655.8,1369.1 655.8,1359.3" fill="#8A4B4D"/><polygon points="698.7,1360.5 707.1,1365.4 707.1,1375.2 698.7,1380.1 690.2,1375.2 690.2,1365.4" fill="#8A4B4D"/><polygon points="731.5,1365.2 740,1370.1 740,1379.9 731.5,1384.8 723,1379.9 723,1370.1" fill="#8A4B4D"/><polygon points="773.2,1357.9 781.7,1362.8 781.7,1372.6 773.2,1377.5 764.7,1372.6 764.7,1362.8" fill="#8A4B4D"/><polygon points="812.7,1361.9 821.2,1366.8 821.2,1376.6 812.7,1381.5 804.2,1376.6 804.2,1366.8" fill="#8A4B4D"/><polygon points="841,1362.3 849.5,1367.2 849.5,1377 841,1381.9 832.5,1377 832.5,1367.2" fill="#8A4B4D"/><polygon points="877.2,1364.2 885.7,1369.1 885.7,1378.9 877.2,1383.8 868.7,1378.9 868.7,1369.1" fill="#8A4B4D"/><polygon points="911.7,1359.7 920.2,1364.6 920.2,1374.4 911.7,1379.3 903.2,1374.4 903.2,1364.6" fill="#8A4B4D"/><polygon points="952.7,1362 961.2,1366.9 961.2,1376.7 952.7,1381.6 944.2,1376.7 944.2,1366.9" fill="#8A4B4D"/><polygon points="983.9,1359.2 992.4,1364.1 992.4,1373.9 983.9,1378.8 975.5,1373.9 975.5,1364.1" fill="#8A4B4D"/><polygon points="1021.3,1361.7 1029.8,1366.6 1029.8,1376.4 1021.3,1381.3 1012.8,1376.4 1012.8,1366.6" fill="#8A4B4D"/><polygon points="1056.8,1362.2 1065.3,1367.1 1065.3,1376.9 1056.8,1381.8 1048.3,1376.9 1048.3,1367.1" fill="#8A4B4D"/><polygon points="1090.8,1363.5 1099.3,1368.4 1099.3,1378.2 1090.8,1383.1 1082.3,1378.2 1082.3,1368.4" fill="#8A4B4D"/><polygon points="1129.6,1363.8 1138.1,1368.7 1138.1,1378.5 1129.6,1383.4 1121.1,1378.5 1121.1,1368.7" fill="#8A4B4D"/><polygon points="1160.5,1364.2 1169,1369.1 1169,1378.9 1160.5,1383.8 1152,1378.9 1152,1369.1" fill="#8A4B4D"/><polygon points="1195.9,1364.2 1204.4,1369.1 1204.4,1378.9 1195.9,1383.8 1187.4,1378.9 1187.4,1369.1" fill="#8A4B4D"/><polygon points="1235.3,1364.2 1243.8,1369 1243.8,1378.9 1235.3,1383.8 1226.8,1378.9 1226.8,1369" fill="#8A4B4D"/><polygon points="1267.4,1364.1 1275.9,1369 1275.9,1378.8 1267.4,1383.7 1258.9,1378.8 1258.9,1369" fill="#8A4B4D"/><polygon points="1303.3,1364.1 1311.8,1369 1311.8,1378.8 1303.3,1383.7 1294.8,1378.8 1294.8,1369" fill="#8A4B4D"/><polygon points="1337.5,1364.1 1346,1369 1346,1378.8 1337.5,1383.7 1329,1378.8 1329,1369" fill="#8A4B4D"/><polygon points="1374.8,1364.1 1383.3,1369 1383.3,1378.8 1374.8,1383.7 1366.3,1378.8 1366.3,1369" fill="#8A4B4D"/><polygon points="1410.3,1364 1418.8,1368.9 1418.8,1378.7 1410.3,1383.6 1401.8,1378.7 1401.8,1368.9" fill="#8A4B4D"/><polygon points="1448.3,1364 1456.8,1368.9 1456.8,1378.7 1448.3,1383.6 1439.9,1378.7 1439.9,1368.9" fill="#8A4B4D"/><polygon points="1480.6,1364 1489.1,1368.9 1489.1,1378.7 1480.6,1383.6 1472.1,1378.7 1472.1,1368.9" fill="#8A4B4D"/><polygon points="1519.1,1364 1527.6,1368.9 1527.6,1378.7 1519.1,1383.6 1510.6,1378.7 1510.6,1368.9" fill="#8A4B4D"/><polygon points="1555.7,1363.9 1564.2,1368.8 1564.2,1378.6 1555.7,1383.5 1547.2,1378.6 1547.2,1368.8" fill="#8A4B4D"/><polygon points="1590.6,1363.9 1599.1,1368.8 1599.1,1378.6 1590.6,1383.5 1582.1,1378.6 1582.1,1368.8" fill="#8A4B4D"/><polygon points="1623.9,1363.9 1632.4,1368.8 1632.4,1378.6 1623.9,1383.5 1615.5,1378.6 1615.5,1368.8" fill="#8A4B4D"/><polygon points="1662.1,1363.9 1670.6,1368.8 1670.6,1378.6 1662.1,1383.5 1653.6,1378.6 1653.6,1368.8" fill="#8A4B4D"/><polygon points="1698.4,1363.9 1706.9,1368.8 1706.9,1378.6 1698.4,1383.5 1689.9,1378.6 1689.9,1368.8" fill="#8A4B4D"/><polygon points="1733,1363.8 1741.5,1368.7 1741.5,1378.5 1733,1383.4 1724.6,1378.5 1724.6,1368.7" fill="#8A4B4D"/><polygon points="1768.8,1363.8 1777.3,1368.7 1777.3,1378.5 1768.8,1383.4 1760.3,1378.5 1760.3,1368.7" fill="#8A4B4D"/><polygon points="1805.6,1363.8 1814.1,1368.7 1814.1,1378.5 1805.6,1383.4 1797.1,1378.5 1797.1,1368.7" fill="#8A4B4D"/><polygon points="1840.6,1363.8 1849.1,1368.7 1849.1,1378.5 1840.6,1383.4 1832.1,1378.5 1832.1,1368.7" fill="#8A4B4D"/><polygon points="1876.4,1363.7 1884.9,1368.6 1884.9,1378.4 1876.4,1383.3 1867.9,1378.4 1867.9,1368.6" fill="#8A4B4D"/><polygon points="1912.7,1363.7 1921.2,1368.6 1921.2,1378.4 1912.7,1383.3 1904.3,1378.4 1904.3,1368.6" fill="#8A4B4D"/><polygon points="1947.4,1363.7 1955.9,1368.6 1955.9,1378.4 1947.4,1383.3 1939,1378.4 1939,1368.6" fill="#8A4B4D"/><polygon points="1982.6,1363.7 1991.1,1368.6 1991.1,1378.4 1982.6,1383.3 1974.1,1378.4 1974.1,1368.6" fill="#8A4B4D"/><polygon points="2018.2,1363.6 2026.7,1368.5 2026.7,1378.3 2018.2,1383.2 2009.7,1378.3 2009.7,1368.5" fill="#8A4B4D"/><polygon points="2054,1363.6 2062.4,1368.5 2062.4,1378.3 2054,1383.2 2045.5,1378.3 2045.5,1368.5" fill="#8A4B4D"/><polygon points="2089.9,1363.6 2098.3,1368.5 2098.3,1378.3 2089.9,1383.2 2081.4,1378.3 2081.4,1368.5" fill="#8A4B4D"/>
<polyline points="416.5,1269.4 463.9,1290.5 494,1313 522.8,1318.8 564.1,1324.8 590.4,1328.9 628.3,1337.7 664.3,1342.4 698.7,1351.8 731.5,1357.2 773.2,1357.2 812.7,1361.2 841,1361.9 877.2,1365.4 911.7,1365.4 952.7,1366.1 983.9,1366.4 1021.3,1366.8 1056.8,1367.3 1090.8,1367.8 1129.6,1368.2 1160.5,1368.6 1195.9,1369 1235.3,1369.4 1267.4,1369.8 1303.3,1370.1 1337.5,1370.5 1374.8,1370.7 1410.3,1370.8 1448.3,1371 1480.6,1371.1 1519.1,1371.2 1555.7,1371.4 1590.6,1371.5 1623.9,1371.7 1662.1,1371.8 1698.4,1372 1733,1372.1 1768.8,1372.2 1805.6,1372.3 1840.6,1372.4 1876.4,1372.5 1912.7,1372.5 1947.4,1372.6 1982.6,1372.7 2018.2,1372.8 2054,1372.9 2089.9,1373" fill="none" stroke="#8E8E00" stroke-width="3.5" stroke-linejoin="round"/><polygon points="416.5,1259.7 419.1,1265.9 425.8,1266.4 420.7,1270.7 422.2,1277.2 416.5,1273.8 410.8,1277.2 412.4,1270.7 407.3,1266.4 414,1265.9" fill="#8E8E00"/><polygon points="463.9,1280.8 466.5,1287 473.2,1287.5 468.1,1291.8 469.6,1298.3 463.9,1294.9 458.2,1298.3 459.8,1291.8 454.7,1287.5 461.4,1287" fill="#8E8E00"/><polygon points="494,1303.3 496.5,1309.5 503.2,1310 498.1,1314.3 499.7,1320.8 494,1317.4 488.3,1320.8 489.8,1314.3 484.7,1310 491.4,1309.5" fill="#8E8E00"/><polygon points="522.8,1309.1 525.4,1315.3 532,1315.8 527,1320.1 528.5,1326.6 522.8,1323.2 517.1,1326.6 518.7,1320.1 513.6,1315.8 520.2,1315.3" fill="#8E8E00"/><polygon points="564.1,1315.1 566.7,1321.3 573.3,1321.8 568.3,1326.1 569.8,1332.6 564.1,1329.2 558.4,1332.6 560,1326.1 554.9,1321.8 561.6,1321.3" fill="#8E8E00"/><polygon points="590.4,1319.2 593,1325.4 599.7,1325.9 594.6,1330.2 596.1,1336.7 590.4,1333.3 584.7,1336.7 586.3,1330.2 581.2,1325.9 587.9,1325.4" fill="#8E8E00"/><polygon points="628.3,1328 630.8,1334.2 637.5,1334.7 632.4,1339 634,1345.5 628.3,1342.1 622.6,1345.5 624.1,1339 619.1,1334.7 625.7,1334.2" fill="#8E8E00"/><polygon points="664.3,1332.7 666.9,1338.9 673.5,1339.4 668.4,1343.7 670,1350.2 664.3,1346.8 658.6,1350.2 660.1,1343.7 655.1,1339.4 661.7,1338.9" fill="#8E8E00"/><polygon points="698.7,1342.1 701.2,1348.3 707.9,1348.8 702.8,1353.1 704.4,1359.6 698.7,1356.2 693,1359.6 694.5,1353.1 689.4,1348.8 696.1,1348.3" fill="#8E8E00"/><polygon points="731.5,1347.5 734.1,1353.7 740.7,1354.2 735.7,1358.5 737.2,1365 731.5,1361.6 725.8,1365 727.4,1358.5 722.3,1354.2 729,1353.7" fill="#8E8E00"/><polygon points="773.2,1347.5 775.8,1353.7 782.4,1354.2 777.4,1358.5 778.9,1365 773.2,1361.6 767.5,1365 769.1,1358.5 764,1354.2 770.6,1353.7" fill="#8E8E00"/><polygon points="812.7,1351.5 815.3,1357.7 821.9,1358.2 816.9,1362.5 818.4,1369 812.7,1365.6 807,1369 808.6,1362.5 803.5,1358.2 810.1,1357.7" fill="#8E8E00"/><polygon points="841,1352.2 843.6,1358.4 850.2,1358.9 845.2,1363.2 846.7,1369.7 841,1366.3 835.3,1369.7 836.9,1363.2 831.8,1358.9 838.4,1358.4" fill="#8E8E00"/><polygon points="877.2,1355.7 879.7,1361.9 886.4,1362.4 881.3,1366.7 882.9,1373.2 877.2,1369.8 871.5,1373.2 873,1366.7 868,1362.4 874.6,1361.9" fill="#8E8E00"/><polygon points="911.7,1355.7 914.2,1361.9 920.9,1362.4 915.8,1366.7 917.4,1373.2 911.7,1369.8 906,1373.2 907.5,1366.7 902.4,1362.4 909.1,1361.9" fill="#8E8E00"/><polygon points="952.7,1356.4 955.2,1362.6 961.9,1363.1 956.8,1367.4 958.4,1373.9 952.7,1370.5 947,1373.9 948.5,1367.4 943.5,1363.1 950.1,1362.6" fill="#8E8E00"/><polygon points="983.9,1356.7 986.5,1362.9 993.2,1363.5 988.1,1367.8 989.6,1374.3 983.9,1370.8 978.2,1374.3 979.8,1367.8 974.7,1363.5 981.4,1362.9" fill="#8E8E00"/><polygon points="1021.3,1357.1 1023.8,1363.3 1030.5,1363.8 1025.4,1368.1 1027,1374.6 1021.3,1371.2 1015.6,1374.6 1017.1,1368.1 1012,1363.8 1018.7,1363.3" fill="#8E8E00"/><polygon points="1056.8,1357.6 1059.4,1363.8 1066.1,1364.3 1061,1368.6 1062.5,1375.1 1056.8,1371.7 1051.1,1375.1 1052.7,1368.6 1047.6,1364.3 1054.3,1363.8" fill="#8E8E00"/><polygon points="1090.8,1358.1 1093.4,1364.3 1100,1364.8 1094.9,1369.1 1096.5,1375.6 1090.8,1372.2 1085.1,1375.6 1086.6,1369.1 1081.6,1364.8 1088.2,1364.3" fill="#8E8E00"/><polygon points="1129.6,1358.5 1132.2,1364.7 1138.8,1365.2 1133.7,1369.5 1135.3,1376 1129.6,1372.6 1123.9,1376 1125.4,1369.5 1120.4,1365.2 1127,1364.7" fill="#8E8E00"/><polygon points="1160.5,1358.9 1163,1365.1 1169.7,1365.6 1164.6,1369.9 1166.2,1376.4 1160.5,1373 1154.8,1376.4 1156.3,1369.9 1151.2,1365.6 1157.9,1365.1" fill="#8E8E00"/><polygon points="1195.9,1359.3 1198.5,1365.5 1205.1,1366 1200.1,1370.3 1201.6,1376.8 1195.9,1373.4 1190.2,1376.8 1191.8,1370.3 1186.7,1366 1193.4,1365.5" fill="#8E8E00"/><polygon points="1235.3,1359.7 1237.8,1365.8 1244.5,1366.4 1239.4,1370.7 1241,1377.2 1235.3,1373.7 1229.6,1377.2 1231.1,1370.7 1226,1366.4 1232.7,1365.8" fill="#8E8E00"/><polygon points="1267.4,1360 1270,1366.2 1276.7,1366.8 1271.6,1371.1 1273.1,1377.6 1267.4,1374.1 1261.7,1377.6 1263.3,1371.1 1258.2,1366.8 1264.9,1366.2" fill="#8E8E00"/><polygon points="1303.3,1360.4 1305.8,1366.6 1312.5,1367.1 1307.4,1371.5 1309,1378 1303.3,1374.5 1297.6,1378 1299.1,1371.5 1294.1,1367.1 1300.7,1366.6" fill="#8E8E00"/><polygon points="1337.5,1360.8 1340.1,1367 1346.7,1367.5 1341.6,1371.8 1343.2,1378.3 1337.5,1374.9 1331.8,1378.3 1333.3,1371.8 1328.3,1367.5 1334.9,1367" fill="#8E8E00"/><polygon points="1374.8,1361 1377.3,1367.1 1384,1367.7 1378.9,1372 1380.5,1378.5 1374.8,1375 1369.1,1378.5 1370.6,1372 1365.6,1367.7 1372.2,1367.1" fill="#8E8E00"/><polygon points="1410.3,1361.1 1412.9,1367.3 1419.5,1367.8 1414.4,1372.1 1416,1378.6 1410.3,1375.2 1404.6,1378.6 1406.1,1372.1 1401.1,1367.8 1407.7,1367.3" fill="#8E8E00"/><polygon points="1448.3,1361.2 1450.9,1367.4 1457.6,1368 1452.5,1372.3 1454,1378.8 1448.3,1375.3 1442.6,1378.8 1444.2,1372.3 1439.1,1368 1445.8,1367.4" fill="#8E8E00"/><polygon points="1480.6,1361.4 1483.2,1367.6 1489.8,1368.1 1484.8,1372.4 1486.3,1378.9 1480.6,1375.5 1474.9,1378.9 1476.5,1372.4 1471.4,1368.1 1478.1,1367.6" fill="#8E8E00"/><polygon points="1519.1,1361.5 1521.7,1367.7 1528.3,1368.3 1523.2,1372.6 1524.8,1379.1 1519.1,1375.6 1513.4,1379.1 1514.9,1372.6 1509.9,1368.3 1516.5,1367.7" fill="#8E8E00"/><polygon points="1555.7,1361.7 1558.3,1367.9 1564.9,1368.4 1559.9,1372.7 1561.4,1379.2 1555.7,1375.8 1550,1379.2 1551.5,1372.7 1546.5,1368.4 1553.1,1367.9" fill="#8E8E00"/><polygon points="1590.6,1361.8 1593.2,1368 1599.8,1368.6 1594.7,1372.9 1596.3,1379.4 1590.6,1375.9 1584.9,1379.4 1586.4,1372.9 1581.4,1368.6 1588,1368" fill="#8E8E00"/><polygon points="1623.9,1362 1626.5,1368.2 1633.2,1368.7 1628.1,1373 1629.6,1379.5 1623.9,1376.1 1618.2,1379.5 1619.8,1373 1614.7,1368.7 1621.4,1368.2" fill="#8E8E00"/><polygon points="1662.1,1362.1 1664.7,1368.3 1671.3,1368.9 1666.3,1373.2 1667.8,1379.7 1662.1,1376.2 1656.4,1379.7 1657.9,1373.2 1652.9,1368.9 1659.5,1368.3" fill="#8E8E00"/><polygon points="1698.4,1362.3 1701,1368.5 1707.6,1369 1702.6,1373.3 1704.1,1379.8 1698.4,1376.4 1692.7,1379.8 1694.3,1373.3 1689.2,1369 1695.8,1368.5" fill="#8E8E00"/><polygon points="1733,1362.4 1735.6,1368.6 1742.3,1369.1 1737.2,1373.4 1738.7,1379.9 1733,1376.5 1727.3,1379.9 1728.9,1373.4 1723.8,1369.1 1730.5,1368.6" fill="#8E8E00"/><polygon points="1768.8,1362.5 1771.4,1368.7 1778.1,1369.2 1773,1373.5 1774.5,1380 1768.8,1376.5 1763.1,1380 1764.7,1373.5 1759.6,1369.2 1766.3,1368.7" fill="#8E8E00"/><polygon points="1805.6,1362.6 1808.1,1368.7 1814.8,1369.3 1809.7,1373.6 1811.3,1380.1 1805.6,1376.6 1799.9,1380.1 1801.4,1373.6 1796.3,1369.3 1803,1368.7" fill="#8E8E00"/><polygon points="1840.6,1362.7 1843.1,1368.8 1849.8,1369.4 1844.7,1373.7 1846.3,1380.2 1840.6,1376.7 1834.9,1380.2 1836.4,1373.7 1831.4,1369.4 1838,1368.8" fill="#8E8E00"/><polygon points="1876.4,1362.8 1878.9,1368.9 1885.6,1369.5 1880.5,1373.8 1882.1,1380.3 1876.4,1376.8 1870.7,1380.3 1872.2,1373.8 1867.1,1369.5 1873.8,1368.9" fill="#8E8E00"/><polygon points="1912.7,1362.8 1915.3,1369 1922,1369.5 1916.9,1373.9 1918.4,1380.4 1912.7,1376.9 1907,1380.4 1908.6,1373.9 1903.5,1369.5 1910.2,1369" fill="#8E8E00"/><polygon points="1947.4,1362.9 1950,1369.1 1956.7,1369.6 1951.6,1374 1953.1,1380.5 1947.4,1377 1941.7,1380.5 1943.3,1374 1938.2,1369.6 1944.9,1369.1" fill="#8E8E00"/><polygon points="1982.6,1363 1985.2,1369.2 1991.9,1369.7 1986.8,1374.1 1988.3,1380.6 1982.6,1377.1 1976.9,1380.6 1978.5,1374.1 1973.4,1369.7 1980.1,1369.2" fill="#8E8E00"/><polygon points="2018.2,1363.1 2020.7,1369.3 2027.4,1369.8 2022.3,1374.2 2023.9,1380.7 2018.2,1377.2 2012.5,1380.7 2014,1374.2 2009,1369.8 2015.6,1369.3" fill="#8E8E00"/><polygon points="2054,1363.2 2056.5,1369.4 2063.2,1369.9 2058.1,1374.3 2059.7,1380.8 2054,1377.3 2048.3,1380.8 2049.8,1374.3 2044.7,1369.9 2051.4,1369.4" fill="#8E8E00"/><polygon points="2089.9,1363.3 2092.4,1369.5 2099.1,1370 2094,1374.3 2095.6,1380.8 2089.9,1377.4 2084.2,1380.8 2085.7,1374.3 2080.6,1370 2087.3,1369.5" fill="#8E8E00"/>
</g>
<g id="main-axes">
<rect x="376" y="68" width="6" height="1439" fill="#000"/>
<rect x="364" y="1501" width="1797" height="6" fill="#000"/>
<rect x="351" y="1370.2" width="28" height="6.5" fill="#000"/>
<rect x="364" y="1240" width="15" height="6.5" fill="#000"/>
<rect x="351" y="1109.8" width="28" height="6.5" fill="#000"/>
<rect x="364" y="979.5" width="15" height="6.5" fill="#000"/>
<rect x="351" y="849.2" width="28" height="6.5" fill="#000"/>
<rect x="364" y="719" width="15" height="6.5" fill="#000"/>
<rect x="351" y="588.7" width="28" height="6.5" fill="#000"/>
<rect x="364" y="458.5" width="15" height="6.5" fill="#000"/>
<rect x="351" y="328.2" width="28" height="6.5" fill="#000"/>
<rect x="364" y="198" width="15" height="6.5" fill="#000"/>
<rect x="351" y="67.8" width="28" height="6.5" fill="#000"/>
<rect x="454.7" y="1504" width="6.5" height="15" fill="#000"/>
<rect x="554.9" y="1504" width="6.5" height="15" fill="#000"/>
<rect x="643.3" y="1504" width="6.5" height="28" fill="#000"/>
<rect x="722.3" y="1504" width="6.5" height="15" fill="#000"/>
<rect x="793.8" y="1504" width="6.5" height="15" fill="#000"/>
<rect x="859.1" y="1504" width="6.5" height="15" fill="#000"/>
<rect x="919.1" y="1504" width="6.5" height="15" fill="#000"/>
<rect x="974.7" y="1504" width="6.5" height="15" fill="#000"/>
<rect x="1026.5" y="1504" width="6.5" height="15" fill="#000"/>
<rect x="1074.9" y="1504" width="6.5" height="15" fill="#000"/>
<rect x="1120.4" y="1504" width="6.5" height="15" fill="#000"/>
<rect x="1163.2" y="1504" width="6.5" height="28" fill="#000"/>
<rect x="1203.8" y="1504" width="6.5" height="15" fill="#000"/>
<rect x="1242.3" y="1504" width="6.5" height="15" fill="#000"/>
<rect x="1278.9" y="1504" width="6.5" height="15" fill="#000"/>
<rect x="1313.8" y="1504" width="6.5" height="15" fill="#000"/>
<rect x="1347.1" y="1504" width="6.5" height="15" fill="#000"/>
<rect x="1379.1" y="1504" width="6.5" height="15" fill="#000"/>
<rect x="1409.7" y="1504" width="6.5" height="15" fill="#000"/>
<rect x="1439.1" y="1504" width="6.5" height="15" fill="#000"/>
<rect x="1467.4" y="1504" width="6.5" height="28" fill="#000"/>
<rect x="1494.7" y="1504" width="6.5" height="15" fill="#000"/>
<rect x="1521" y="1504" width="6.5" height="15" fill="#000"/>
<rect x="1546.5" y="1504" width="6.5" height="15" fill="#000"/>
<rect x="1571.1" y="1504" width="6.5" height="15" fill="#000"/>
<rect x="1594.9" y="1504" width="6.5" height="15" fill="#000"/>
<rect x="1618" y="1504" width="6.5" height="15" fill="#000"/>
<rect x="1640.4" y="1504" width="6.5" height="15" fill="#000"/>
<rect x="1662.1" y="1504" width="6.5" height="15" fill="#000"/>
<rect x="1683.2" y="1504" width="6.5" height="28" fill="#000"/>
<rect x="1703.8" y="1504" width="6.5" height="15" fill="#000"/>
<rect x="1723.8" y="1504" width="6.5" height="15" fill="#000"/>
<rect x="1743.3" y="1504" width="6.5" height="15" fill="#000"/>
<rect x="1762.3" y="1504" width="6.5" height="15" fill="#000"/>
<rect x="1780.8" y="1504" width="6.5" height="15" fill="#000"/>
<rect x="1798.9" y="1504" width="6.5" height="15" fill="#000"/>
<rect x="1816.5" y="1504" width="6.5" height="15" fill="#000"/>
<rect x="1833.8" y="1504" width="6.5" height="15" fill="#000"/>
<rect x="1850.7" y="1504" width="6.5" height="28" fill="#000"/>
<rect x="1867.1" y="1504" width="6.5" height="15" fill="#000"/>
<rect x="1883.3" y="1504" width="6.5" height="15" fill="#000"/>
<rect x="1899.1" y="1504" width="6.5" height="15" fill="#000"/>
<rect x="1914.5" y="1504" width="6.5" height="15" fill="#000"/>
<rect x="1929.7" y="1504" width="6.5" height="15" fill="#000"/>
<rect x="1944.5" y="1504" width="6.5" height="15" fill="#000"/>
<rect x="1959.1" y="1504" width="6.5" height="15" fill="#000"/>
<rect x="1973.4" y="1504" width="6.5" height="15" fill="#000"/>
<rect x="1987.4" y="1504" width="6.5" height="28" fill="#000"/>
<rect x="2001.2" y="1504" width="6.5" height="15" fill="#000"/>
<rect x="2014.7" y="1504" width="6.5" height="15" fill="#000"/>
<rect x="2028" y="1504" width="6.5" height="15" fill="#000"/>
<rect x="2041" y="1504" width="6.5" height="15" fill="#000"/>
<rect x="2053.9" y="1504" width="6.5" height="15" fill="#000"/>
<rect x="2066.5" y="1504" width="6.5" height="15" fill="#000"/>
<rect x="2078.9" y="1504" width="6.5" height="15" fill="#000"/>
<rect x="2091.1" y="1504" width="6.5" height="15" fill="#000"/>
<rect x="2103.1" y="1504" width="6.5" height="28" fill="#000"/>
<rect x="2114.9" y="1504" width="6.5" height="15" fill="#000"/>
<rect x="2126.5" y="1504" width="6.5" height="15" fill="#000"/>
<rect x="2138" y="1504" width="6.5" height="15" fill="#000"/>
<rect x="2149.3" y="1504" width="6.5" height="15" fill="#000"/>
</g>
<g id="ylabels" font-size="61.0" text-anchor="end">
<text transform="translate(331.5,1393.9) scale(1,1.06)">0.0</text>
<text transform="translate(331.5,1136) scale(1,1.06)">2.0x10<tspan font-size="40.7" dy="-24.6">-4</tspan></text>
<text transform="translate(331.5,875.5) scale(1,1.06)">4.0x10<tspan font-size="40.7" dy="-24.6">-4</tspan></text>
<text transform="translate(331.5,615) scale(1,1.06)">6.0x10<tspan font-size="40.7" dy="-24.6">-4</tspan></text>
<text transform="translate(331.5,354.5) scale(1,1.06)">8.0x10<tspan font-size="40.7" dy="-24.6">-4</tspan></text>
<text transform="translate(331.5,94) scale(1,1.06)">1.0x10<tspan font-size="40.7" dy="-24.6">-3</tspan></text>
</g>
<g id="xlabels" font-size="61.0" text-anchor="middle">
<text transform="translate(646.2,1600) scale(1,1.06)">50</text>
<text transform="translate(1166.2,1600) scale(1,1.06)">100</text>
<text transform="translate(1470.4,1600) scale(1,1.06)">150</text>
<text transform="translate(1686.2,1600) scale(1,1.06)">200</text>
<text transform="translate(1853.6,1600) scale(1,1.06)">250</text>
<text transform="translate(1990.4,1600) scale(1,1.06)">300</text>
<text transform="translate(2106,1600) scale(1,1.06)">350</text>
</g>
<text transform="translate(83.4,1203.8) rotate(-90)" font-size="74.3">Normalized Voltage (V/A)</text>
<text transform="translate(1268.4,1711.1)" font-size="74.3" text-anchor="middle">Time (µs)</text>
<g id="legend" font-size="50">
<line x1="603" y1="95" x2="714" y2="95" stroke="#787878" stroke-width="4" stroke-linecap="round"/>
<rect x="650.8" y="86.9" width="15.4" height="15.4" fill="#787878"/>
<text transform="translate(728.8,112.7)">Forward measurement signal of point 1</text>
<line x1="601" y1="156.7" x2="716" y2="156.7" stroke="#F94242" stroke-width="3.1"/>
<circle cx="658.5" cy="156.7" r="8.9" fill="#F94242"/>
<text transform="translate(728.8,174.4)">Forward measurement signal of point 7</text>
<line x1="601" y1="218.4" x2="716" y2="218.4" stroke="#0A69E6" stroke-width="3.1"/>
<polygon points="658.5,207 648.2,224 668.8,224" fill="#0A69E6"/>
<text transform="translate(728.8,236.1)">Forward measurement signal of point 13</text>
<line x1="603" y1="280.1" x2="714" y2="280.1" stroke="#05AC67" stroke-width="4" stroke-linecap="round"/>
<polygon points="658.5,291.4 648.2,274.4 668.8,274.4" fill="#05AC67"/>
<text transform="translate(728.8,297.8)">Reverse measurement signal of point 1</text>
<line x1="601" y1="341.8" x2="716" y2="341.8" stroke="#C078E1" stroke-width="3.1"/>
<polygon points="658.5,331.2 668.7,341.8 658.5,352.4 648.3,341.8" fill="#C078E1"/>
<text transform="translate(728.8,359.5)">Reverse measurement signal of point 7</text>
<line x1="601" y1="403.4" x2="716" y2="403.4" stroke="#DF9A00" stroke-width="3.1"/>
<polygon points="647.2,403.4 664.2,393.1 664.2,413.8" fill="#DF9A00"/>
<text transform="translate(728.8,421.1)">Reverse measurement signal of point 13</text>
<line x1="603" y1="465.1" x2="714" y2="465.1" stroke="#00C9CC" stroke-width="4" stroke-linecap="round"/>
<polygon points="669.8,465.1 652.8,454.8 652.8,475.4" fill="#00C9CC"/>
<text transform="translate(728.8,482.8)">Difference result between two measured values of point 1</text>
<line x1="601" y1="526.8" x2="716" y2="526.8" stroke="#8A4B4D" stroke-width="3.1"/>
<polygon points="658.5,517 667,521.9 667,531.7 658.5,536.6 650,531.7 650,521.9" fill="#8A4B4D"/>
<text transform="translate(728.8,544.5)">Difference result between two measured values of point 7</text>
<line x1="601" y1="588.5" x2="716" y2="588.5" stroke="#8E8E00" stroke-width="3.1"/>
<polygon points="658.5,578.8 661.1,585 667.7,585.5 662.7,589.9 664.2,596.4 658.5,592.9 652.8,596.4 654.3,589.9 649.3,585.5 655.9,585" fill="#8E8E00"/>
<text transform="translate(728.8,606.2)">Difference result between two measured values of point 13</text>
</g>
<g id="inset-data">
<polyline points="1152.6,766.8 1238.9,824.7 1296.5,876.6 1354,940.2 1440.3,1009.2 1497.8,973.9 1584.1,1000.5 1670.5,1034.3 1756.8,1051.5 1843.1,1083.4 1958.1,1078.6" fill="none" stroke="#646464" stroke-width="2.1" stroke-linejoin="round"/><polygon points="1139.2,766.8 1159.4,755.8 1159.4,777.8" fill="#00FFFF"/><polygon points="1225.5,824.7 1245.7,813.7 1245.7,835.7" fill="#00FFFF"/><polygon points="1283,876.6 1303.2,865.6 1303.2,887.6" fill="#00FFFF"/><polygon points="1340.5,940.2 1360.7,929.2 1360.7,951.2" fill="#00FFFF"/><polygon points="1426.8,1009.2 1447,998.2 1447,1020.2" fill="#00FFFF"/><polygon points="1484.4,973.9 1504.6,962.9 1504.6,984.9" fill="#00FFFF"/><polygon points="1570.7,1000.5 1590.9,989.5 1590.9,1011.5" fill="#00FFFF"/><polygon points="1657,1034.3 1677.2,1023.3 1677.2,1045.3" fill="#00FFFF"/><polygon points="1743.3,1051.5 1763.5,1040.5 1763.5,1062.5" fill="#00FFFF"/><polygon points="1829.6,1083.4 1849.8,1072.4 1849.8,1094.4" fill="#00FFFF"/><polygon points="1944.7,1078.6 1964.9,1067.6 1964.9,1089.6" fill="#00FFFF"/>
<polyline points="1152.6,1161.8 1238.9,1138.3 1296.5,1139.8 1354,1121.7 1440.3,1109 1497.8,1109.6 1584.1,1148.8 1670.5,1136.2 1756.8,1154.3 1843.1,1163.9 1958.1,1144.3" fill="none" stroke="#000" stroke-width="2.2" stroke-linejoin="round"/><circle cx="1152.6" cy="1161.8" r="9.7" fill="#8B0000"/><circle cx="1238.9" cy="1138.3" r="9.7" fill="#8B0000"/><circle cx="1296.5" cy="1139.8" r="9.7" fill="#8B0000"/><circle cx="1354" cy="1121.7" r="9.7" fill="#8B0000"/><circle cx="1440.3" cy="1109" r="9.7" fill="#8B0000"/><circle cx="1497.8" cy="1109.6" r="9.7" fill="#8B0000"/><circle cx="1584.1" cy="1148.8" r="9.7" fill="#8B0000"/><circle cx="1670.5" cy="1136.2" r="9.7" fill="#8B0000"/><circle cx="1756.8" cy="1154.3" r="9.7" fill="#8B0000"/><circle cx="1843.1" cy="1163.9" r="9.7" fill="#8B0000"/><circle cx="1958.1" cy="1144.3" r="9.7" fill="#8B0000"/>
<polyline points="1152.6,882 1238.9,939.3 1296.5,1001.7 1354,1016.8 1440.3,1031.3 1497.8,1043.3 1584.1,1065.9 1670.5,1078.9 1756.8,1104.2 1843.1,1118.7 1958.1,1120.2" fill="none" stroke="#0A69E6" stroke-width="2.1" stroke-linejoin="round"/><polygon points="1152.6,870.8 1155.7,877.8 1163.2,878.6 1157.6,883.6 1159.2,891 1152.6,887.2 1146.1,891 1147.6,883.6 1142,878.6 1149.5,877.8" fill="#3EA60A"/><polygon points="1238.9,928.1 1242,935.1 1249.5,935.9 1243.9,940.9 1245.5,948.3 1238.9,944.5 1232.4,948.3 1233.9,940.9 1228.3,935.9 1235.9,935.1" fill="#3EA60A"/><polygon points="1296.5,990.5 1299.5,997.5 1307.1,998.3 1301.5,1003.3 1303,1010.7 1296.5,1006.9 1289.9,1010.7 1291.5,1003.3 1285.9,998.3 1293.4,997.5" fill="#3EA60A"/><polygon points="1354,1005.6 1357.1,1012.6 1364.6,1013.4 1359,1018.4 1360.6,1025.8 1354,1022 1347.4,1025.8 1349,1018.4 1343.4,1013.4 1350.9,1012.6" fill="#3EA60A"/><polygon points="1440.3,1020.1 1443.4,1027.1 1450.9,1027.9 1445.3,1032.9 1446.9,1040.3 1440.3,1036.5 1433.8,1040.3 1435.3,1032.9 1429.7,1027.9 1437.2,1027.1" fill="#3EA60A"/><polygon points="1497.8,1032.1 1500.9,1039.1 1508.5,1039.9 1502.8,1044.9 1504.4,1052.3 1497.8,1048.5 1491.3,1052.3 1492.9,1044.9 1487.2,1039.9 1494.8,1039.1" fill="#3EA60A"/><polygon points="1584.1,1054.7 1587.2,1061.7 1594.8,1062.5 1589.1,1067.5 1590.7,1074.9 1584.1,1071.1 1577.6,1074.9 1579.2,1067.5 1573.5,1062.5 1581.1,1061.7" fill="#3EA60A"/><polygon points="1670.5,1067.7 1673.5,1074.7 1681.1,1075.5 1675.4,1080.5 1677,1087.9 1670.5,1084.1 1663.9,1087.9 1665.5,1080.5 1659.8,1075.5 1667.4,1074.7" fill="#3EA60A"/><polygon points="1756.8,1093 1759.8,1100 1767.4,1100.8 1761.7,1105.8 1763.3,1113.2 1756.8,1109.4 1750.2,1113.2 1751.8,1105.8 1746.1,1100.8 1753.7,1100" fill="#3EA60A"/><polygon points="1843.1,1107.5 1846.1,1114.5 1853.7,1115.3 1848,1120.3 1849.6,1127.7 1843.1,1123.9 1836.5,1127.7 1838.1,1120.3 1832.5,1115.3 1840,1114.5" fill="#3EA60A"/><polygon points="1958.1,1109 1961.2,1116 1968.7,1116.8 1963.1,1121.8 1964.7,1129.2 1958.1,1125.4 1951.6,1129.2 1953.1,1121.8 1947.5,1116.8 1955.1,1116" fill="#3EA60A"/>
</g>
<g id="inset-axes">
<rect x="1088.6" y="706.5" width="987.8" height="490.8" fill="none" stroke="#000" stroke-width="3"/>
<rect x="1088.6" y="1160.9" width="12" height="3" fill="#000"/>
<rect x="2064.4" y="1160.9" width="12" height="3" fill="#000"/>
<rect x="1088.6" y="1125.8" width="6.5" height="3" fill="#000"/>
<rect x="2069.9" y="1125.8" width="6.5" height="3" fill="#000"/>
<rect x="1088.6" y="1090.8" width="12" height="3" fill="#000"/>
<rect x="2064.4" y="1090.8" width="12" height="3" fill="#000"/>
<rect x="1088.6" y="1055.7" width="6.5" height="3" fill="#000"/>
<rect x="2069.9" y="1055.7" width="6.5" height="3" fill="#000"/>
<rect x="1088.6" y="1020.6" width="12" height="3" fill="#000"/>
<rect x="2064.4" y="1020.6" width="12" height="3" fill="#000"/>
<rect x="1088.6" y="985.5" width="6.5" height="3" fill="#000"/>
<rect x="2069.9" y="985.5" width="6.5" height="3" fill="#000"/>
<rect x="1088.6" y="950.5" width="12" height="3" fill="#000"/>
<rect x="2064.4" y="950.5" width="12" height="3" fill="#000"/>
<rect x="1088.6" y="915.4" width="6.5" height="3" fill="#000"/>
<rect x="2069.9" y="915.4" width="6.5" height="3" fill="#000"/>
<rect x="1088.6" y="880.3" width="12" height="3" fill="#000"/>
<rect x="2064.4" y="880.3" width="12" height="3" fill="#000"/>
<rect x="1088.6" y="845.2" width="6.5" height="3" fill="#000"/>
<rect x="2069.9" y="845.2" width="6.5" height="3" fill="#000"/>
<rect x="1088.6" y="810.2" width="12" height="3" fill="#000"/>
<rect x="2064.4" y="810.2" width="12" height="3" fill="#000"/>
<rect x="1088.6" y="775.1" width="6.5" height="3" fill="#000"/>
<rect x="2069.9" y="775.1" width="6.5" height="3" fill="#000"/>
<rect x="1088.6" y="740" width="12" height="3" fill="#000"/>
<rect x="2064.4" y="740" width="12" height="3" fill="#000"/>
<rect x="1176.3" y="706.5" width="3" height="6.5" fill="#000"/>
<rect x="1176.3" y="1190.8" width="3" height="6.5" fill="#000"/>
<rect x="1266.2" y="706.5" width="3" height="11.5" fill="#000"/>
<rect x="1266.2" y="1185.8" width="3" height="11.5" fill="#000"/>
<rect x="1356.1" y="706.5" width="3" height="6.5" fill="#000"/>
<rect x="1356.1" y="1190.8" width="3" height="6.5" fill="#000"/>
<rect x="1446" y="706.5" width="3" height="11.5" fill="#000"/>
<rect x="1446" y="1185.8" width="3" height="11.5" fill="#000"/>
<rect x="1535.9" y="706.5" width="3" height="6.5" fill="#000"/>
<rect x="1535.9" y="1190.8" width="3" height="6.5" fill="#000"/>
<rect x="1625.8" y="706.5" width="3" height="11.5" fill="#000"/>
<rect x="1625.8" y="1185.8" width="3" height="11.5" fill="#000"/>
<rect x="1715.7" y="706.5" width="3" height="6.5" fill="#000"/>
<rect x="1715.7" y="1190.8" width="3" height="6.5" fill="#000"/>
<rect x="1805.6" y="706.5" width="3" height="11.5" fill="#000"/>
<rect x="1805.6" y="1185.8" width="3" height="11.5" fill="#000"/>
<rect x="1895.5" y="706.5" width="3" height="6.5" fill="#000"/>
<rect x="1895.5" y="1190.8" width="3" height="6.5" fill="#000"/>
<rect x="1985.4" y="706.5" width="3" height="11.5" fill="#000"/>
<rect x="1985.4" y="1185.8" width="3" height="11.5" fill="#000"/>
</g>
<g id="inset-ylabels" font-size="40.6" text-anchor="end">
<text transform="translate(1075.6,1175.7) scale(1,1.06)">0.0</text>
<text transform="translate(1076.4,1107) scale(1,1.06)">2.0x10<tspan font-size="27.1" dy="-16.4">-5</tspan></text>
<text transform="translate(1076.4,1036.8) scale(1,1.06)">4.0x10<tspan font-size="27.1" dy="-16.4">-5</tspan></text>
<text transform="translate(1076.4,966.7) scale(1,1.06)">6.0x10<tspan font-size="27.1" dy="-16.4">-5</tspan></text>
<text transform="translate(1076.4,896.5) scale(1,1.06)">8.0x10<tspan font-size="27.1" dy="-16.4">-5</tspan></text>
<text transform="translate(1076.4,826.4) scale(1,1.06)">1.0x10<tspan font-size="27.1" dy="-16.4">-4</tspan></text>
<text transform="translate(1076.4,756.2) scale(1,1.06)">1.2x10<tspan font-size="27.1" dy="-16.4">-4</tspan></text>
</g>
<g id="inset-xlabels" font-size="40.6" text-anchor="middle">
<text transform="translate(1087.9,1240.6) scale(1,1.06)">35</text>
<text transform="translate(1267.7,1240.6) scale(1,1.06)">40</text>
<text transform="translate(1447.5,1240.6) scale(1,1.06)">45</text>
<text transform="translate(1627.3,1240.6) scale(1,1.06)">50</text>
<text transform="translate(1807.1,1240.6) scale(1,1.06)">55</text>
<text transform="translate(1986.9,1240.6) scale(1,1.06)">60</text>
</g>
<text transform="translate(906.2,1181.8) rotate(-90)" font-size="41">Normalized Voltage (V/A)</text>
<g id="zoom-box" stroke="#FF0000" fill="none" stroke-dasharray="13 8">
<line x1="389" y1="1201.5" x2="687" y2="1201.5" stroke-width="3"/>
<line x1="390" y1="1200" x2="390" y2="1408" stroke-width="4"/>
<line x1="685.5" y1="1201" x2="685.5" y2="1408" stroke-width="3"/>
<line x1="395" y1="1406.5" x2="687" y2="1406.5" stroke-width="3"/>
</g>
<g id="zoom-guides" stroke="#000" stroke-width="5.2" stroke-linecap="round" fill="none">
<line x1="392.21" y1="1200.04" x2="860.47" y2="876.62" stroke-dasharray="1.2 16.009"/>
<line x1="686.25" y1="1408.53" x2="1048.91" y2="1254.43" stroke-dasharray="1.2 15.880"/>
<circle cx="1064" cy="1247.8" r="1.6" fill="#000" stroke="none"/>
</g>
</svg>
</body></html>
